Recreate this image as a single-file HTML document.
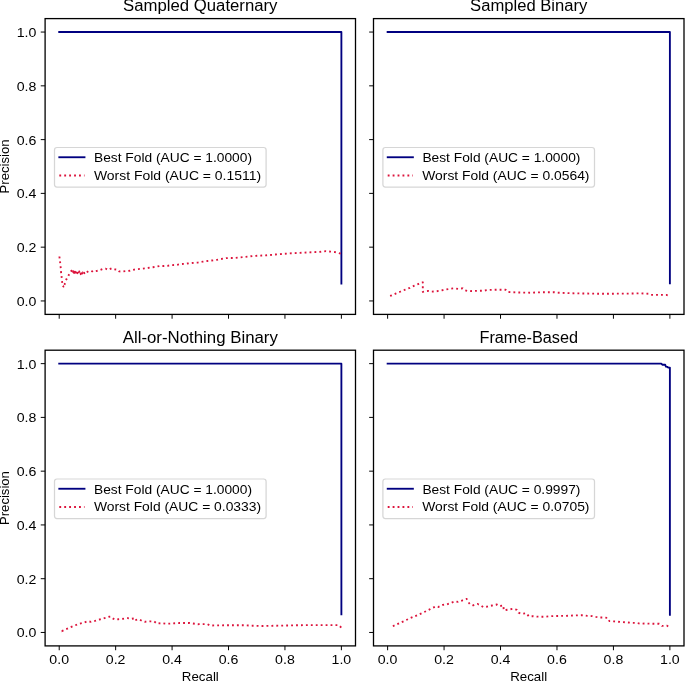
<!DOCTYPE html><html><head><meta charset="utf-8"><style>
html,body{margin:0;padding:0;background:#fff;width:685px;height:681px;overflow:hidden}
svg{display:block;will-change:transform}
text{font-family:"Liberation Sans",sans-serif;fill:#000}
.t{font-size:13.3px}
.h{font-size:15.8px}
</style></head><body>
<svg width="685" height="681" viewBox="0 0 685 681">
<rect x="0" y="0" width="685" height="681" fill="#fff"/>
<clipPath id="c1"><rect x="45.1" y="18.6" width="310.4" height="295.8"/></clipPath>
<g clip-path="url(#c1)">
<polyline points="59.21,32.05 341.39,32.05 341.39,283.5" fill="none" stroke="#000080" stroke-width="1.86" stroke-linecap="square" stroke-linejoin="round"/>
<polyline points="59.4,256.5 60,261.5 60.6,266.2 60.9,270.9 61.5,275.8 62,280.8 62.6,285.3 63.4,286.6 62.9,285.4 63.8,286.2 64.6,284.4 65.9,280.5 67,278.1 68.8,275 70.4,272.2 72,270 72.4,271.6 72.9,270.4 73.3,272.2 73.8,271 74.2,273 74.8,271.6 75.3,273.6 75.9,272.2 76.4,273.8 77,271.9 77.5,273.2 78.1,271.4 78.6,272.8 79.2,271.4 79.7,273.4 80.3,272 80.8,274.2 81.4,272.8 81.9,274.4 82.6,272.4 83.1,273.6 83.8,272 84.4,273.2 85,271.8 86.1,272.6 88.5,271.1 90.9,270.8 92.2,271.4 93.8,270.5 95.8,271.1 98.8,270.5 102.6,269 105.8,268.7 107.8,269.9 111.6,268.3 114.2,269.3 117.4,269.6 119.2,271.4 122.1,271.6 125.9,271.1 130.1,270.7 134.2,269.6 138.3,269.1 142.4,268.7 146.5,268.2 151.1,267.4 155.1,266.9 159.7,266 163.8,266 167.4,265.8 172,265.1 176.1,265 180.7,264.1 184.8,263.8 188.9,263.3 193.7,262.8 197.7,262.6 202.8,261.7 207.2,261 211.7,260.5 216.8,259.8 221.2,259 226.3,258.1 230.4,258 234.5,258 239,257.5 244,257 248.8,256.5 252.8,256 257.4,255.7 265.5,255.4 275.4,254.5 284.6,253.8 294.4,253.1 303,252.7 312.2,252.2 320.7,251.8 326,251.2 330.6,251.6 335.2,252.1 338.4,252.9 341.4,253.8" fill="none" stroke="#dc143c" stroke-width="1.86" stroke-dasharray="1.86 3.07" stroke-dashoffset="0" stroke-linejoin="round"/>
</g>
<rect x="45.1" y="18.6" width="310.4" height="295.8" fill="none" stroke="#000" stroke-width="1.3"/>
<path d="M59.21 314.4v4.34M45.1 300.95h-4.34M115.65 314.4v4.34M45.1 247.17h-4.34M172.08 314.4v4.34M45.1 193.39h-4.34M228.52 314.4v4.34M45.1 139.61h-4.34M284.95 314.4v4.34M45.1 85.83h-4.34M341.39 314.4v4.34M45.1 32.05h-4.34" stroke="#000" stroke-width="0.99" fill="none"/>
<text class="t" x="36.42" y="305.9" text-anchor="end" textLength="19.7" lengthAdjust="spacingAndGlyphs">0.0</text>
<text class="t" x="36.42" y="252.12" text-anchor="end" textLength="19.7" lengthAdjust="spacingAndGlyphs">0.2</text>
<text class="t" x="36.42" y="198.34" text-anchor="end" textLength="19.7" lengthAdjust="spacingAndGlyphs">0.4</text>
<text class="t" x="36.42" y="144.56" text-anchor="end" textLength="19.7" lengthAdjust="spacingAndGlyphs">0.6</text>
<text class="t" x="36.42" y="90.78" text-anchor="end" textLength="19.7" lengthAdjust="spacingAndGlyphs">0.8</text>
<text class="t" x="36.42" y="37" text-anchor="end" textLength="19.7" lengthAdjust="spacingAndGlyphs">1.0</text>
<text class="h" x="200.3" y="10.9" text-anchor="middle" textLength="154.4" lengthAdjust="spacingAndGlyphs">Sampled Quaternary</text>
<rect x="54.5" y="147.5" width="211.6" height="39.6" rx="2.5" ry="2.5" fill="#fff" fill-opacity="0.8" stroke="#cccccc" stroke-opacity="0.8" stroke-width="1.24"/>
<path d="M59.3 157.25H84.5" stroke="#000080" stroke-width="1.86" stroke-linecap="square"/>
<path d="M59.3 175.5H84.5" stroke="#dc143c" stroke-width="1.86" stroke-dasharray="1.86 3.07"/>
<text class="t" x="94" y="162" textLength="158" lengthAdjust="spacingAndGlyphs">Best Fold (AUC = 1.0000)</text>
<text class="t" x="93.9" y="179.8" textLength="167.2" lengthAdjust="spacingAndGlyphs">Worst Fold (AUC = 0.1511)</text>
<clipPath id="c2"><rect x="373.5" y="18.6" width="310.5" height="295.8"/></clipPath>
<g clip-path="url(#c2)">
<polyline points="387.61,32.05 669.89,32.05 669.89,283.3" fill="none" stroke="#000080" stroke-width="1.86" stroke-linecap="square" stroke-linejoin="round"/>
<polyline points="387.5,296.8 391.8,295.3 396.1,293.4 400.7,291.5 405.3,289.6 409.9,287.8 414.4,285.7 418.8,283.8 422.8,282.3 422.8,291.9 428.1,290.9 431.3,291.6 435.5,291.4 440.3,290.7 445.1,289.6 450,288.8 454.3,288.3 458.1,288.9 462.7,288.3 465.3,290.3 468.6,291.2 473.2,290.9 478,290.8 482.6,290.8 488,290 496.8,289.7 505.5,289.7 507.5,291.9 516.5,292.5 530.4,292.7 544.2,292.2 553.7,292.2 558.8,292.7 567.6,293.1 577.1,293.4 604.2,293.8 634.1,293.5 639.2,293.3 648.7,293.8 651,294.9 666.2,294.9 669.9,296" fill="none" stroke="#dc143c" stroke-width="1.86" stroke-dasharray="1.86 3.07" stroke-dashoffset="2.18" stroke-linejoin="round"/>
</g>
<rect x="373.5" y="18.6" width="310.5" height="295.8" fill="none" stroke="#000" stroke-width="1.3"/>
<path d="M387.61 314.4v4.34M373.5 300.95h-4.34M444.07 314.4v4.34M373.5 247.17h-4.34M500.52 314.4v4.34M373.5 193.39h-4.34M556.98 314.4v4.34M373.5 139.61h-4.34M613.43 314.4v4.34M373.5 85.83h-4.34M669.89 314.4v4.34M373.5 32.05h-4.34" stroke="#000" stroke-width="0.99" fill="none"/>
<text class="h" x="528.75" y="10.9" text-anchor="middle" textLength="117.3" lengthAdjust="spacingAndGlyphs">Sampled Binary</text>
<rect x="382.9" y="147.5" width="211.6" height="39.6" rx="2.5" ry="2.5" fill="#fff" fill-opacity="0.8" stroke="#cccccc" stroke-opacity="0.8" stroke-width="1.24"/>
<path d="M387.7 157.25H412.9" stroke="#000080" stroke-width="1.86" stroke-linecap="square"/>
<path d="M387.7 175.5H412.9" stroke="#dc143c" stroke-width="1.86" stroke-dasharray="1.86 3.07"/>
<text class="t" x="422.4" y="162" textLength="158" lengthAdjust="spacingAndGlyphs">Best Fold (AUC = 1.0000)</text>
<text class="t" x="422.3" y="179.8" textLength="167.2" lengthAdjust="spacingAndGlyphs">Worst Fold (AUC = 0.0564)</text>
<clipPath id="c3"><rect x="45.1" y="350.2" width="310.4" height="295.7"/></clipPath>
<g clip-path="url(#c3)">
<polyline points="59.21,363.64 341.39,363.64 341.39,614.4" fill="none" stroke="#000080" stroke-width="1.86" stroke-linecap="square" stroke-linejoin="round"/>
<polyline points="59.2,630.3 61.8,631.2 66.2,629.1 70.8,627.1 74.7,625.5 79.3,623.7 83.5,622.7 87.6,621.2 90.9,621.8 94.8,620.9 99.7,619.5 104.5,618.1 109.3,616.7 110.4,616.6 111.8,617.9 114.8,619.6 118.3,619.2 123,618.8 127.5,618.1 131,618.9 134.8,618.3 135.2,620.1 138.9,619.2 142,620.9 145,621.8 149.8,621.4 154.2,621.4 157,623.6 161.7,623.1 165.6,623.7 169.5,623.6 179.6,623 189.8,623 197.8,624.2 207.3,624.1 210.3,625.5 229.2,625.2 243.8,625.2 252.6,625.7 262.1,626 286.3,625.5 306,625.1 319.1,625.2 338.8,625.1 341.4,627.7" fill="none" stroke="#dc143c" stroke-width="1.86" stroke-dasharray="1.86 3.07" stroke-dashoffset="2.2" stroke-linejoin="round"/>
</g>
<rect x="45.1" y="350.2" width="310.4" height="295.7" fill="none" stroke="#000" stroke-width="1.3"/>
<path d="M59.21 645.9v4.34M45.1 632.46h-4.34M115.65 645.9v4.34M45.1 578.7h-4.34M172.08 645.9v4.34M45.1 524.93h-4.34M228.52 645.9v4.34M45.1 471.17h-4.34M284.95 645.9v4.34M45.1 417.4h-4.34M341.39 645.9v4.34M45.1 363.64h-4.34" stroke="#000" stroke-width="0.99" fill="none"/>
<text class="t" x="36.42" y="637.41" text-anchor="end" textLength="19.7" lengthAdjust="spacingAndGlyphs">0.0</text>
<text class="t" x="36.42" y="583.65" text-anchor="end" textLength="19.7" lengthAdjust="spacingAndGlyphs">0.2</text>
<text class="t" x="36.42" y="529.88" text-anchor="end" textLength="19.7" lengthAdjust="spacingAndGlyphs">0.4</text>
<text class="t" x="36.42" y="476.12" text-anchor="end" textLength="19.7" lengthAdjust="spacingAndGlyphs">0.6</text>
<text class="t" x="36.42" y="422.35" text-anchor="end" textLength="19.7" lengthAdjust="spacingAndGlyphs">0.8</text>
<text class="t" x="36.42" y="368.59" text-anchor="end" textLength="19.7" lengthAdjust="spacingAndGlyphs">1.0</text>
<text class="t" x="59.21" y="664" text-anchor="middle" textLength="19.7" lengthAdjust="spacingAndGlyphs">0.0</text>
<text class="t" x="115.65" y="664" text-anchor="middle" textLength="19.7" lengthAdjust="spacingAndGlyphs">0.2</text>
<text class="t" x="172.08" y="664" text-anchor="middle" textLength="19.7" lengthAdjust="spacingAndGlyphs">0.4</text>
<text class="t" x="228.52" y="664" text-anchor="middle" textLength="19.7" lengthAdjust="spacingAndGlyphs">0.6</text>
<text class="t" x="284.95" y="664" text-anchor="middle" textLength="19.7" lengthAdjust="spacingAndGlyphs">0.8</text>
<text class="t" x="341.39" y="664" text-anchor="middle" textLength="19.7" lengthAdjust="spacingAndGlyphs">1.0</text>
<text class="h" x="200.3" y="342.6" text-anchor="middle" textLength="155.2" lengthAdjust="spacingAndGlyphs">All-or-Nothing Binary</text>
<rect x="54.5" y="479" width="211.6" height="39.6" rx="2.5" ry="2.5" fill="#fff" fill-opacity="0.8" stroke="#cccccc" stroke-opacity="0.8" stroke-width="1.24"/>
<path d="M59.3 488.75H84.5" stroke="#000080" stroke-width="1.86" stroke-linecap="square"/>
<path d="M59.3 507H84.5" stroke="#dc143c" stroke-width="1.86" stroke-dasharray="1.86 3.07"/>
<text class="t" x="94" y="493.5" textLength="158" lengthAdjust="spacingAndGlyphs">Best Fold (AUC = 1.0000)</text>
<text class="t" x="93.9" y="511.3" textLength="167.2" lengthAdjust="spacingAndGlyphs">Worst Fold (AUC = 0.0333)</text>
<clipPath id="c4"><rect x="373.5" y="350.2" width="310.5" height="295.7"/></clipPath>
<g clip-path="url(#c4)">
<polyline points="387.61,363.64 661.3,363.64 662.3,364.7 665.2,364.7 665.9,366.6 667.3,366.8 668.2,367.6 669.89,367.6 669.89,614.7" fill="none" stroke="#000080" stroke-width="1.86" stroke-linecap="square" stroke-linejoin="round"/>
<polyline points="391,627.1 395.5,625 399.9,623 404.3,621 408.8,618.8 413.2,616.9 417.7,615 422.2,613 426.9,610.8 431,608.7 435.4,606.6 438,607.1 442.8,604.9 446.6,604.5 450.9,602.9 455.1,601.4 458,601.8 462.6,600.3 466.7,598.9 468.2,602 470.2,604.5 473.1,605.3 477.7,604 480.5,605.3 483.1,607.1 487.3,606.6 492.1,605.5 496.9,604.5 499.6,606.1 503.3,605.4 503.8,610.3 508.6,609.6 513.2,608.8 516.9,609.8 518.6,612.7 521.7,613.8 526.5,613.3 528.7,616.2 533.1,616.2 537,616.6 541.2,616.7 545.8,616.7 550.6,616.2 554.5,616 564.5,615.9 573.7,615.5 582.9,615.2 587.5,615.9 592,616.1 596,616.9 599.7,617.5 603.9,617.5 607.8,617.9 609.4,621.1 614.4,621.4 622.9,622.1 631.5,622.8 636.6,622.9 640.2,623.7 645.3,623.5 649.9,623.7 654.8,623.8 659.2,623.8 662,625.9 667.1,625.7 669.9,627.7" fill="none" stroke="#dc143c" stroke-width="1.86" stroke-dasharray="1.86 3.07" stroke-dashoffset="2.9" stroke-linejoin="round"/>
</g>
<rect x="373.5" y="350.2" width="310.5" height="295.7" fill="none" stroke="#000" stroke-width="1.3"/>
<path d="M387.61 645.9v4.34M373.5 632.46h-4.34M444.07 645.9v4.34M373.5 578.7h-4.34M500.52 645.9v4.34M373.5 524.93h-4.34M556.98 645.9v4.34M373.5 471.17h-4.34M613.43 645.9v4.34M373.5 417.4h-4.34M669.89 645.9v4.34M373.5 363.64h-4.34" stroke="#000" stroke-width="0.99" fill="none"/>
<text class="t" x="387.61" y="664" text-anchor="middle" textLength="19.7" lengthAdjust="spacingAndGlyphs">0.0</text>
<text class="t" x="444.07" y="664" text-anchor="middle" textLength="19.7" lengthAdjust="spacingAndGlyphs">0.2</text>
<text class="t" x="500.52" y="664" text-anchor="middle" textLength="19.7" lengthAdjust="spacingAndGlyphs">0.4</text>
<text class="t" x="556.98" y="664" text-anchor="middle" textLength="19.7" lengthAdjust="spacingAndGlyphs">0.6</text>
<text class="t" x="613.43" y="664" text-anchor="middle" textLength="19.7" lengthAdjust="spacingAndGlyphs">0.8</text>
<text class="t" x="669.89" y="664" text-anchor="middle" textLength="19.7" lengthAdjust="spacingAndGlyphs">1.0</text>
<text class="h" x="528.75" y="342.6" text-anchor="middle" textLength="98.6" lengthAdjust="spacingAndGlyphs">Frame-Based</text>
<rect x="382.9" y="479" width="211.6" height="39.6" rx="2.5" ry="2.5" fill="#fff" fill-opacity="0.8" stroke="#cccccc" stroke-opacity="0.8" stroke-width="1.24"/>
<path d="M387.7 488.75H412.9" stroke="#000080" stroke-width="1.86" stroke-linecap="square"/>
<path d="M387.7 507H412.9" stroke="#dc143c" stroke-width="1.86" stroke-dasharray="1.86 3.07"/>
<text class="t" x="422.4" y="493.5" textLength="158" lengthAdjust="spacingAndGlyphs">Best Fold (AUC = 0.9997)</text>
<text class="t" x="422.3" y="511.3" textLength="167.2" lengthAdjust="spacingAndGlyphs">Worst Fold (AUC = 0.0705)</text>
<text class="t" transform="translate(9.3 166.5) rotate(-90)" text-anchor="middle" textLength="53.9" lengthAdjust="spacingAndGlyphs">Precision</text>
<text class="t" transform="translate(9.3 498.05) rotate(-90)" text-anchor="middle" textLength="53.9" lengthAdjust="spacingAndGlyphs">Precision</text>
<text class="t" x="200.3" y="681.2" text-anchor="middle" textLength="37.0" lengthAdjust="spacingAndGlyphs">Recall</text>
<text class="t" x="528.7" y="681.2" text-anchor="middle" textLength="37.0" lengthAdjust="spacingAndGlyphs">Recall</text>
</svg></body></html>
